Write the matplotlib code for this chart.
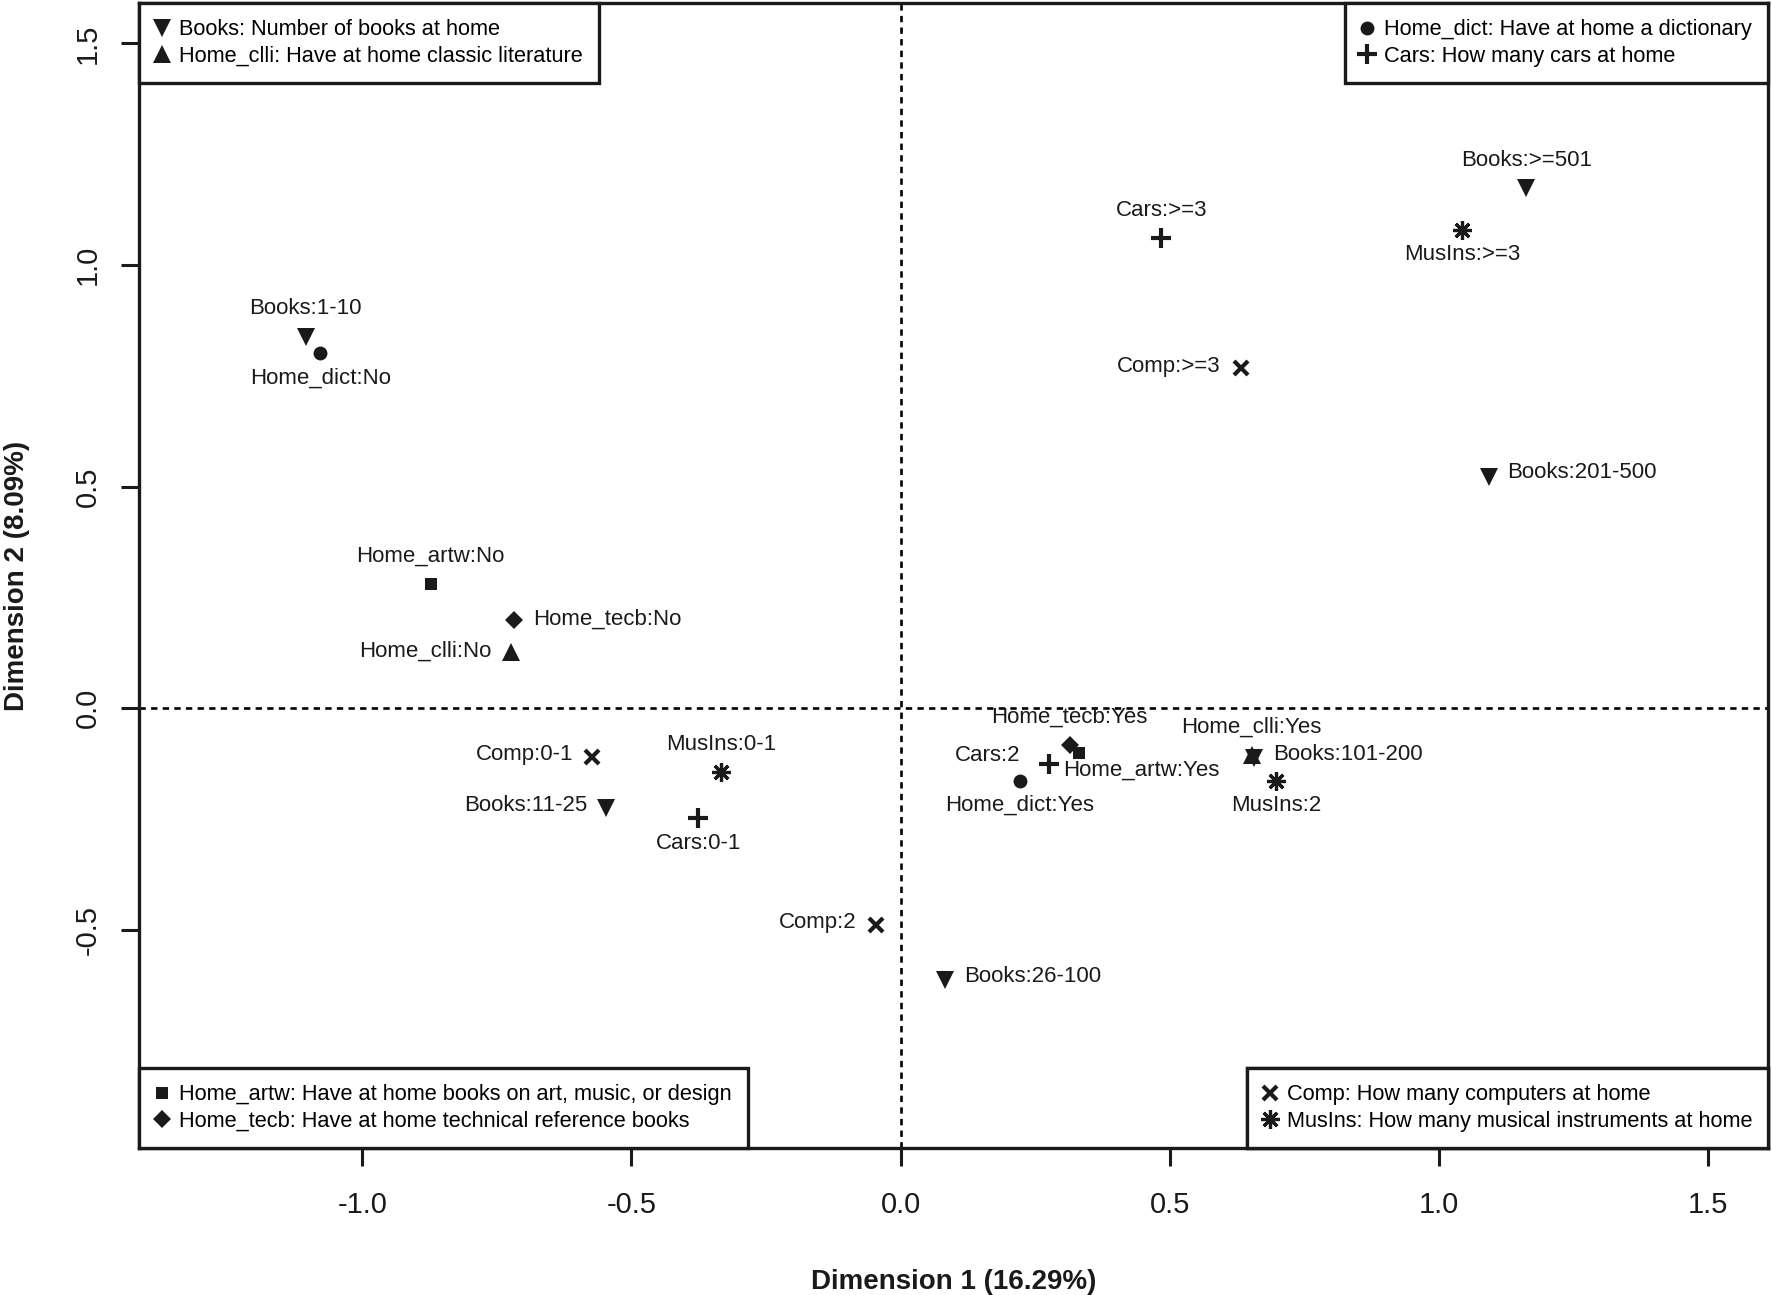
import matplotlib
matplotlib.use("Agg")
import matplotlib.pyplot as plt
from matplotlib.lines import Line2D

plt.rcParams['font.family'] = ['Liberation Sans', 'DejaVu Sans']

# category coordinates (dimension 1, dimension 2)
labels = ["Books:1-10", "Home_dict:No", "Home_artw:No", "Home_tecb:No", "Home_clli:No",
          "Comp:0-1", "MusIns:0-1", "Books:11-25", "Cars:0-1", "Comp:2", "Books:26-100",
          "Home_dict:Yes", "Cars:2", "Home_tecb:Yes", "Home_artw:Yes", "Home_clli:Yes",
          "Books:101-200", "MusIns:2", "Comp:>=3", "Cars:>=3", "MusIns:>=3",
          "Books:>=501", "Books:201-500"]
dim1 = [-1.105, -1.078, -0.873, -0.718, -0.724,
        -0.573, -0.334, -0.547, -0.376, -0.046, 0.082,
        0.221, 0.275, 0.314, 0.332, 0.652,
        0.656, 0.698, 0.632, 0.484, 1.043,
        1.162, 1.092]
dim2 = [0.838, 0.802, 0.280, 0.198, 0.128,
        -0.111, -0.144, -0.224, -0.248, -0.488, -0.614,
        -0.163, -0.126, -0.083, -0.100, -0.105,
        -0.112, -0.163, 0.767, 1.060, 1.080,
        1.173, 0.522]

legend_groups = [
    ["Books", "Home_clli"],
    ["Home_dict", "Cars"],
    ["Home_artw", "Home_tecb"],
    ["Comp", "MusIns"],
]
var_desc = {
    "Books": "Books: Number of books at home",
    "Home_clli": "Home_clli: Have at home classic literature",
    "Home_dict": "Home_dict: Have at home a dictionary",
    "Cars": "Cars: How many cars at home",
    "Home_artw": "Home_artw: Have at home books on art, music, or design",
    "Home_tecb": "Home_tecb: Have at home technical reference books",
    "Comp": "Comp: How many computers at home",
    "MusIns": "MusIns: How many musical instruments at home",
}

# marker styles per variable
sty = {
    "Books": dict(marker="v", ms=12.5, mew=0),
    "Home_clli": dict(marker="^", ms=12.5, mew=0),
    "Home_dict": dict(marker="o", ms=10, mew=0),
    "Cars": dict(marker="+", ms=14, mew=3),
    "Home_artw": dict(marker="s", ms=9, mew=0),
    "Home_tecb": dict(marker="D", ms=9, mew=0),
    "Comp": dict(marker="x", ms=10, mew=3),
    "MusIns": dict(marker=(8, 2, 0), ms=13.5, mew=2.3),
}

# label offsets in pixels (dx, dy, ha)
T, B = (0, 28, "center"), (0, -25, "center")
lab_pos = [T, B, T, (19, 1, "left"), (-19, 0, "right"),
           (-19, 3, "right"), T, (-19, 2, "right"), B, (-19, 2, "right"), (19, 4, "left"),
           B, (-28, 9, "right"), T, (-16, -18, "left"), T,
           (19, 3, "left"), B, (-20, 2, "right"), T, B,
           T, (19, 4, "left")]

fig = plt.figure(figsize=(17.72, 12.95), dpi=100)
ax = fig.add_axes([0.0787, 0.1135, 0.9193, 0.8842])

ax.axhline(0, color="black", lw=1.9, ls=(0, (2.4, 2.0)), zorder=1)
ax.axvline(0, color="black", lw=1.9, ls=(0, (2.4, 2.0)), zorder=1)

for lab, xv, yv, (dx, dy, ha) in zip(labels, dim1, dim2, lab_pos):
    var = lab.split(":")[0]
    ax.plot([xv], [yv], ls="none", color="#1a1a1a", mec="#1a1a1a", zorder=3, **sty[var])
    ax.annotate(lab, (xv, yv), xytext=(dx, dy), textcoords="offset pixels",
                ha=ha, va="center", fontsize=16, color="#1a1a1a", zorder=4)

ax.set_xlim(-1.414, 1.612)
ax.set_ylim(-0.992, 1.591)
ax.set_xticks([-1.0, -0.5, 0.0, 0.5, 1.0, 1.5])
ax.set_yticks([-0.5, 0.0, 0.5, 1.0, 1.5])
ax.set_xticklabels(["-1.0", "-0.5", "0.0", "0.5", "1.0", "1.5"])
ax.set_yticklabels(["-0.5", "0.0", "0.5", "1.0", "1.5"])
ax.tick_params(axis="both", length=13, width=2.2, labelsize=21, color="#1a1a1a", labelcolor="#1a1a1a")
ax.tick_params(axis="x", pad=18)
ax.tick_params(axis="y", pad=14)
for t in ax.get_yticklabels():
    t.set_rotation(90)
    t.set_va("center")
for sp in ax.spines.values():
    sp.set_linewidth(2.4)
    sp.set_color("#1a1a1a")

ax.set_xlabel("Dimension 1 (16.29%)", fontsize=20, fontweight="bold", labelpad=36, color="#1a1a1a")
ax.set_ylabel("Dimension 2 (8.09%)", fontsize=20, fontweight="bold", labelpad=32, color="#1a1a1a")

locs = ["upper left", "upper right", "lower left", "lower right"]
anchors = [(0, 1), (1, 1), (0, 0), (1, 0)]
for group, loc, anc in zip(legend_groups, locs, anchors):
    handles = [Line2D([], [], ls="none", color="#1a1a1a", mec="#1a1a1a", **sty[v]) for v in group]
    leg = ax.legend(handles, [var_desc[v] for v in group], loc=loc, bbox_to_anchor=anc,
                    borderaxespad=0, fontsize=15.7, fancybox=False, framealpha=1,
                    edgecolor="#1a1a1a", borderpad=0.75, labelspacing=0.25,
                    handlelength=0.55, handletextpad=0.5)
    leg.get_frame().set_linewidth(2.4)
    leg.set_zorder(5)
    ax.add_artist(leg)

fig.savefig("out.png", dpi=100)
